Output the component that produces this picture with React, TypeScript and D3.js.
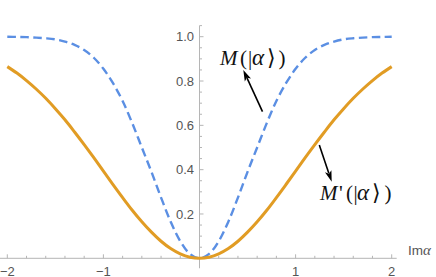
import React from "react";
import * as d3 from "d3";

const xValues = [-2.0,-1.9,-1.8,-1.7,-1.6,-1.5,-1.4,-1.3,-1.2,-1.1,-1.0,-0.9,-0.8,-0.7,-0.6,-0.5,-0.4,-0.3,-0.2,-0.1,0.0,0.1,0.2,0.3,0.4,0.5,0.6,0.7,0.8,0.9,1.0,1.1,1.2,1.3,1.4,1.5,1.6,1.7,1.8,1.9,2.0];
const mValues = [1.0,0.999,0.998,0.996,0.993,0.988,0.978,0.963,0.94,0.905,0.855,0.79,0.71,0.61,0.50,0.39,0.274,0.165,0.077,0.02,0.0,0.02,0.077,0.165,0.274,0.39,0.50,0.61,0.71,0.79,0.855,0.905,0.94,0.963,0.978,0.988,0.993,0.996,0.998,0.999,1.0];
const mPrimeValues = [0.865,0.836,0.802,0.764,0.722,0.675,0.625,0.570,0.513,0.454,0.393,0.333,0.274,0.217,0.165,0.118,0.077,0.044,0.020,0.005,0.0,0.005,0.020,0.044,0.077,0.118,0.165,0.217,0.274,0.333,0.393,0.454,0.513,0.570,0.625,0.675,0.722,0.764,0.802,0.836,0.865];
const xMajorTicks = [-2, -1, 1, 2];
const xTickLabels = ["\u22122", "\u22121", "1", "2"];
const yMajorTicks = [0.2, 0.4, 0.6, 0.8, 1.0];
const yTickLabels = ["0.2", "0.4", "0.6", "0.8", "1.0"];

const W = 436, H = 277;

export default function App() {
  const x = d3.scaleLinear().domain([-2, 2]).range([7.3, 391.7]);
  const y = d3.scaleLinear().domain([0, 1]).range([258.3, 36.7]);
  const line = d3.line<number>().x((_, i) => x(xValues[i])).y(d => y(d)).curve(d3.curveCatmullRom);
  const axisColor = "#b5b5b5";
  const tickText = "#555";
  const xMinor = d3.range(-2, 2.0001, 0.2).map(v => +v.toFixed(2)).filter(v => Math.abs(v) > 1e-6);
  const yMinor = d3.range(0.05, 1.0501, 0.05).map(v => +v.toFixed(2));
  const isMajorX = (v: number) => Math.abs(v - Math.round(v)) < 1e-6;
  const isMajorY = (v: number) => Math.abs(v * 5 - Math.round(v * 5)) < 1e-6;
  const x0 = x(0), y0 = y(0);

  const arrow = (x1: number, y1: number, x2: number, y2: number) => {
    const ang = Math.atan2(y2 - y1, x2 - x1);
    const L = 11, Wd = 3.4;
    const bx = x2 - L * Math.cos(ang), by = y2 - L * Math.sin(ang);
    const px = -Math.sin(ang) * Wd, py = Math.cos(ang) * Wd;
    return (
      <g>
        <line x1={x1} y1={y1} x2={bx + 2 * Math.cos(ang)} y2={by + 2 * Math.sin(ang)} stroke="#000" strokeWidth={1.6} />
        <path d={`M${x2},${y2}L${bx + px},${by + py}L${bx + 2.5 * Math.cos(ang)},${by + 2.5 * Math.sin(ang)}L${bx - px},${by - py}Z`} fill="#000" />
      </g>
    );
  };

  const serif = "'Liberation Serif', 'Times New Roman', serif";
  const bracket = "'DejaVu Sans', sans-serif";

  return (
    <svg width={W} height={H} style={{ position: "absolute", left: 0, top: 0, background: "#fff" }}>
      <line x1={0} x2={396.7} y1={y0} y2={y0} stroke={axisColor} strokeWidth={1} />
      <line x1={x0} x2={x0} y1={y(1.05)} y2={y(-0.045)} stroke={axisColor} strokeWidth={1} />
      {xMinor.map(v => (
        <line key={"xt" + v} x1={x(v)} x2={x(v)} y1={y0} y2={y0 - (isMajorX(v) ? 4 : 2.5)} stroke={axisColor} strokeWidth={1} />
      ))}
      {yMinor.map(v => (
        <line key={"yt" + v} x1={x0} x2={x0 + (isMajorY(v) ? 4 : 2.5)} y1={y(v)} y2={y(v)} stroke={axisColor} strokeWidth={1} />
      ))}
      {xMajorTicks.map((v, i) => (
        <text key={"xl" + v} x={x(v)} y={275.5} textAnchor="middle" fontFamily="'Liberation Sans', Arial, sans-serif" fontSize={13} fill={tickText}>{xTickLabels[i]}</text>
      ))}
      {yMajorTicks.map((v, i) => (
        <text key={"yl" + v} x={194} y={y(v) + 4.6} textAnchor="end" fontFamily="'Liberation Sans', Arial, sans-serif" fontSize={13} fill={tickText}>{yTickLabels[i]}</text>
      ))}
      <text x={408} y={254.5} fontFamily="'Liberation Sans', Arial, sans-serif" fontSize={13.5} fill={tickText}>
        Im<tspan fontFamily={serif} fontStyle="italic" fontSize={15}>α</tspan>
      </text>

      <path d={line(mValues) || ""} fill="none" stroke="#5b8fe3" strokeWidth={2.4} strokeDasharray="8.5,4.5" />
      <path d={line(mPrimeValues) || ""} fill="none" stroke="#e19c24" strokeWidth={3} />

      {arrow(262.5, 111.7, 243.3, 70)}
      {arrow(319.3, 145, 331.7, 181.7)}
      <text y={65} fontFamily={serif} fontSize={21} fill="#111">
        <tspan x={220} fontStyle="italic">M</tspan>
        <tspan x={240}>(</tspan>
        <tspan x={248}>|</tspan>
        <tspan x={252} fontStyle="italic" fontSize={23}>α</tspan>
        <tspan x={267} fontFamily={bracket} fontSize={22}>⟩</tspan>
        <tspan x={278.5}>)</tspan>
      </text>
      <text y={200} fontFamily={serif} fontSize={21} fill="#111">
        <tspan x={320} fontStyle="italic">M</tspan>
        <tspan x={339}>'</tspan>
        <tspan x={346}>(</tspan>
        <tspan x={353.5}>|</tspan>
        <tspan x={357} fontStyle="italic" fontSize={23}>α</tspan>
        <tspan x={372} fontFamily={bracket} fontSize={22}>⟩</tspan>
        <tspan x={384.5}>)</tspan>
      </text>
    </svg>
  );
}
